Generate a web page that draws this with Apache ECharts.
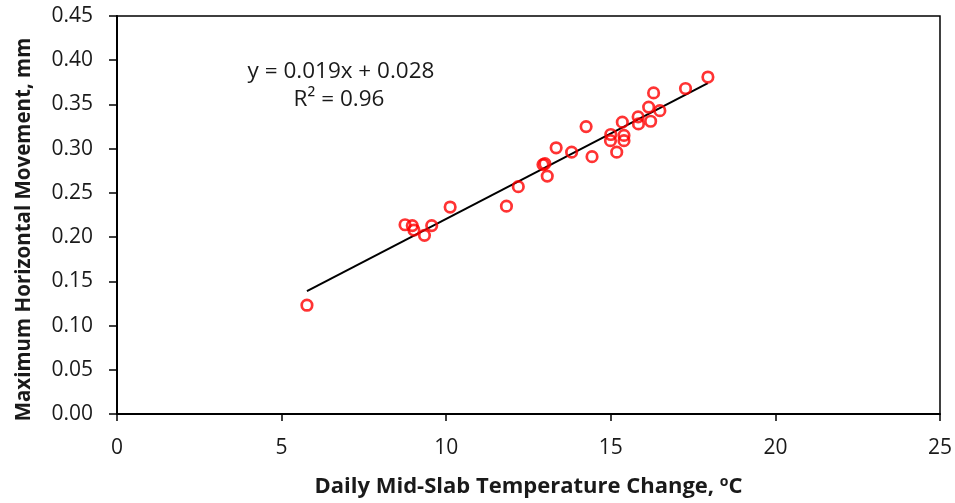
<!DOCTYPE html>
<html>
<head>
<meta charset="utf-8">
<script src="https://cdn.jsdelivr.net/npm/echarts@6/dist/echarts.min.js"></script>
<style>
  html, body { margin: 0; padding: 0; background: #fff; }
  #chart { width: 955px; height: 503px; }
</style>
</head>
<body>
<div id="chart"></div>
<script>
// daily mid-slab temperature change (deg C)
var tempChange = [5.77, 8.75, 8.97, 9.02, 9.34, 9.56, 10.12, 11.83, 12.19, 12.94,
  13.00, 13.07, 13.34, 13.81, 14.25, 14.43, 15.00, 14.99, 15.18, 15.35,
  15.40, 15.40, 15.83, 15.84, 16.15, 16.21, 16.30, 16.49, 17.27, 17.95]
// maximum horizontal movement (mm)
var movement = [0.123, 0.214, 0.213, 0.208, 0.202, 0.213, 0.234, 0.235, 0.257, 0.282,
  0.283, 0.269, 0.301, 0.296, 0.325, 0.291, 0.316, 0.309, 0.296, 0.330,
  0.315, 0.309, 0.336, 0.328, 0.347, 0.331, 0.363, 0.343, 0.368, 0.381]
// linear trend line end points
var trendX = [5.77, 17.95]
var trendY = [0.139, 0.374]

var chart = echarts.init(document.getElementById('chart'))

var font = 'Open Sans'
var points = tempChange.map(function (x, i) { return [x, movement[i]] })
var trend = trendX.map(function (x, i) { return [x, trendY[i]] })

var option = {
  animation: false,
  textStyle: { fontFamily: font },
  grid: {
    left: 117,
    right: 14,
    top: 16,
    bottom: 88,
    show: true,
    borderColor: '#000',
    borderWidth: 1.5
  },
  xAxis: {
    type: 'value',
    min: 0,
    max: 25,
    interval: 5,
    name: 'Daily Mid-Slab Temperature Change, {sup|o}C',
    nameLocation: 'middle',
    nameGap: 61,
    nameTextStyle: {
      fontFamily: font,
      fontSize: 22,
      fontWeight: 'bold',
      color: '#1a1a1a',
      rich: {
        sup: { fontSize: 14, fontWeight: 'bold', color: '#1a1a1a', verticalAlign: 'top', padding: [0, 0, 10, 0] }
      }
    },
    axisLine: { lineStyle: { color: '#000', width: 2 } },
    axisTick: { show: true, length: 7, lineStyle: { color: '#000', width: 1.5 } },
    axisLabel: { fontSize: 21, color: '#1a1a1a', margin: 24 },
    splitLine: { show: false }
  },
  yAxis: {
    type: 'value',
    min: 0,
    max: 0.45,
    interval: 0.05,
    name: 'Maximum Horizontal Movement, mm',
    nameLocation: 'middle',
    nameGap: 82,
    nameTextStyle: {
      fontFamily: font,
      fontSize: 20.5,
      fontWeight: 'bold',
      color: '#1a1a1a',
      padding: [0, 29, 0, 0]
    },
    axisLine: { show: true, lineStyle: { color: '#000', width: 2 } },
    axisTick: { show: true, length: 8, lineStyle: { color: '#000', width: 1.5 } },
    axisLabel: {
      fontSize: 21,
      color: '#1a1a1a',
      margin: 24,
      formatter: function (v) { return v.toFixed(2) }
    },
    splitLine: { show: false }
  },
  graphic: [
    {
      type: 'text',
      x: 341,
      y: 72,
      style: { text: 'y = 0.019x + 0.028', font: '22.5px "Open Sans"', fill: '#1a1a1a', align: 'center', verticalAlign: 'middle' }
    },
    {
      type: 'text',
      x: 339,
      y: 100,
      style: { text: 'R² = 0.96', font: '22.5px "Open Sans"', fill: '#1a1a1a', align: 'center', verticalAlign: 'middle' }
    }
  ],
  series: [
    {
      name: 'trend',
      type: 'line',
      data: trend,
      symbol: 'none',
      lineStyle: { color: '#000', width: 2 },
      z: 1
    },
    {
      name: 'movement',
      type: 'scatter',
      data: points,
      symbol: 'circle',
      symbolSize: 10.5,
      itemStyle: { color: 'rgba(255,255,255,0)', borderColor: '#ff0000', borderWidth: 2.7 },
      z: 2
    }
  ]
}

chart.setOption(option)
</script>
</body>
</html>
